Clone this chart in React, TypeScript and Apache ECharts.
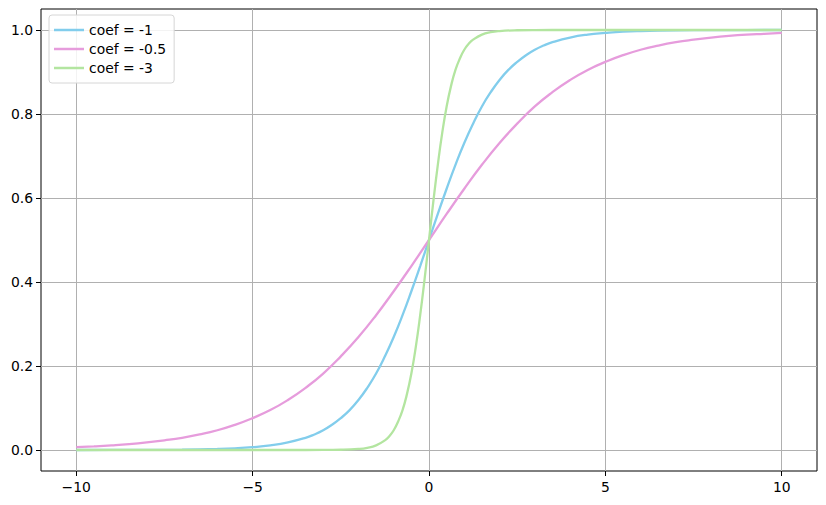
import React, { useEffect, useRef } from "react";
import * as echarts from "echarts";

const seriesNames = ["coef = -1", "coef = -0.5", "coef = -3"];
const seriesColors = ["#82cdec", "#e69cdc", "#b3e5a0"];

const xBlue = [-10, -9, -8, -7, -6, -5.5, -5, -4.5, -4, -3.5, -3.25, -3, -2.75, -2.5, -2.25, -2, -1.75, -1.5, -1.25, -1, -0.75, -0.5, -0.25, 0, 0.25, 0.5, 0.75, 1, 1.25, 1.5, 1.75, 2, 2.25, 2.5, 2.75, 3, 3.25, 3.5, 4, 4.5, 5, 5.5, 6, 7, 8, 9, 10];
const yBlue = [0.00005, 0.0001, 0.0003, 0.0009, 0.0025, 0.004, 0.0067, 0.011, 0.018, 0.029, 0.037, 0.047, 0.06, 0.076, 0.095, 0.119, 0.148, 0.182, 0.223, 0.269, 0.321, 0.378, 0.438, 0.5, 0.562, 0.622, 0.679, 0.731, 0.777, 0.818, 0.852, 0.881, 0.905, 0.924, 0.94, 0.953, 0.963, 0.971, 0.982, 0.989, 0.993, 0.996, 0.9975, 0.999, 0.9997, 0.9999, 1.0];

const xPink = [-10, -9.5, -9, -8.5, -8, -7.5, -7, -6.5, -6, -5.5, -5, -4.5, -4, -3.5, -3, -2.5, -2, -1.5, -1, -0.5, 0, 0.5, 1, 1.5, 2, 2.5, 3, 3.5, 4, 4.5, 5, 5.5, 6, 6.5, 7, 7.5, 8, 8.5, 9, 9.5, 10];
const yPink = [0.0067, 0.0086, 0.011, 0.014, 0.018, 0.023, 0.029, 0.037, 0.047, 0.06, 0.076, 0.095, 0.119, 0.148, 0.182, 0.223, 0.269, 0.321, 0.378, 0.438, 0.5, 0.562, 0.622, 0.679, 0.731, 0.777, 0.818, 0.852, 0.881, 0.905, 0.924, 0.94, 0.953, 0.963, 0.971, 0.977, 0.982, 0.986, 0.989, 0.991, 0.993];

const xGreen = [-10, -6, -4, -3, -2.5, -2, -1.75, -1.5, -1.25, -1.125, -1, -0.875, -0.75, -0.625, -0.5, -0.375, -0.25, -0.125, 0, 0.125, 0.25, 0.375, 0.5, 0.625, 0.75, 0.875, 1, 1.125, 1.25, 1.5, 1.75, 2, 2.5, 3, 4, 6, 10];
const yGreen = [0, 0, 0, 0.0001, 0.0006, 0.0025, 0.0052, 0.011, 0.023, 0.033, 0.047, 0.068, 0.095, 0.133, 0.182, 0.245, 0.321, 0.407, 0.5, 0.593, 0.679, 0.755, 0.818, 0.867, 0.905, 0.932, 0.953, 0.967, 0.977, 0.989, 0.9948, 0.9975, 0.9994, 0.9999, 1, 1, 1];

const xTicks = [-10, -5, 0, 5, 10];
const yTicks = [0, 0.2, 0.4, 0.6, 0.8, 1.0];

const FONT = "DejaVu Sans";

export default function App() {
  const ref = useRef<HTMLDivElement>(null);
  useEffect(() => {
    if (!ref.current) return;
    const chart = echarts.init(ref.current, null, { renderer: "svg" });
    const xs = [xBlue, xPink, xGreen];
    const ys = [yBlue, yPink, yGreen];
    chart.setOption({
      animation: false,
      backgroundColor: "#ffffff",
      textStyle: { fontFamily: FONT },
      grid: {
        left: 41,
        right: 9,
        top: 9,
        bottom: 34,
        show: true,
        borderColor: "#000",
        borderWidth: 1,
        containLabel: false,
      },
      legend: {
        left: 49,
        top: 15,
        orient: "vertical",
        icon: "rect",
        itemWidth: 30,
        itemHeight: 2.5,
        itemGap: 5,
        itemTextGap: 10,
        padding: [8, 8, 8, 5],
        backgroundColor: "rgba(255,255,255,0.85)",
        borderColor: "#d6d6d6",
        borderWidth: 1,
        borderRadius: 3,
        textStyle: { fontFamily: FONT, fontSize: 13.9, color: "#000" },
        data: seriesNames,
      },
      xAxis: {
        type: "value",
        min: -11,
        max: 11,
        axisLine: { show: false, onZero: false },
        axisTick: {
          show: true,
          customValues: xTicks,
          length: 5,
          lineStyle: { color: "#000", width: 1 },
        },
        axisLabel: {
          customValues: xTicks,
          margin: 9,
          fontFamily: FONT,
          fontSize: 13.9,
          color: "#000",
          formatter: (v: number) => (v < 0 ? "\u2212" + Math.abs(v) : String(v)),
        },
        splitLine: { show: true, lineStyle: { color: "#b0b0b0", width: 1 } },
      },
      yAxis: {
        type: "value",
        min: -0.05,
        max: 1.05,
        axisLine: { show: false, onZero: false },
        axisTick: {
          show: true,
          customValues: yTicks,
          length: 5,
          lineStyle: { color: "#000", width: 1 },
        },
        axisLabel: {
          customValues: yTicks,
          margin: 8,
          fontFamily: FONT,
          fontSize: 13.9,
          color: "#000",
          formatter: (v: number) => v.toFixed(1),
        },
        splitLine: { show: true, lineStyle: { color: "#b0b0b0", width: 1 } },
      },
      series: seriesNames.map((name, i) => ({
        name,
        type: "line",
        showSymbol: false,
        smooth: 0.5,
        color: seriesColors[i],
        lineStyle: { width: 2.3, color: seriesColors[i] },
        data: xs[i].map((x, j) => [x, ys[i][j]]),
      })),
    });
    return () => chart.dispose();
  }, []);
  return <div ref={ref} style={{ width: 826, height: 505, position: "absolute", left: 0, top: 0 }} />;
}
